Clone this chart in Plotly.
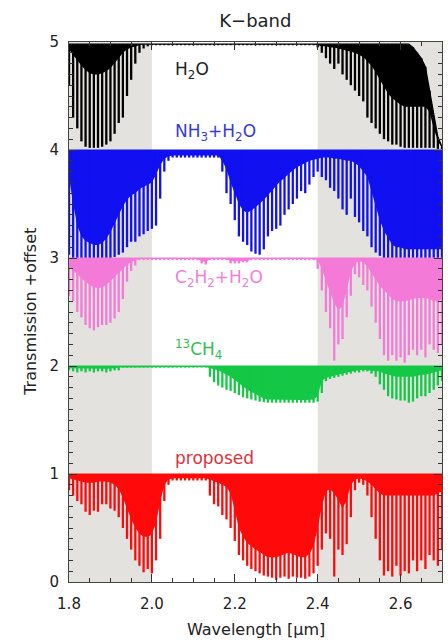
import numpy as np
import plotly.graph_objects as go

# wavelength grid (micron), sampled every 0.01
wavelength = [round(1.80 + 0.01 * i, 2) for i in range(91)]

shaded_bands = [(1.8, 2.0), (2.4, 2.7)]

# ---------------- H2O (offset 4) ----------------
h2o_top = [4.98] * 83 + [4.95, 4.9, 4.85, 4.77, 4.55, 4.3, 4.12, 4.03]
h2o_core = ([4.93, 4.88, 4.83, 4.78, 4.74, 4.71, 4.7, 4.7, 4.71, 4.73, 4.76, 4.8, 4.85, 4.9, 4.93, 4.95, 4.96, 4.97, 4.98, 4.98]
            + [4.98] * 40
            + [4.97, 4.96, 4.96, 4.95, 4.95, 4.94, 4.93, 4.92, 4.91, 4.9, 4.88, 4.86, 4.82, 4.78, 4.72, 4.65,
               4.58, 4.52, 4.48, 4.45, 4.42, 4.4, 4.4, 4.4, 4.4, 4.4, 4.4, 4.35, 4.2, 4.08, 4.02])
h2o_deep = ([4.6, 4.3, 4.2, 4.08, 4.03, 4.02, 4.02, 4.02, 4.03, 4.05, 4.08, 4.15, 4.25, 4.3, 4.5, 4.65, 4.8, 4.9, 4.94, 4.96]
            + [4.97] * 40
            + [4.95, 4.9, 4.85, 4.8, 4.75, 4.8, 4.7, 4.65, 4.6, 4.55, 4.5, 4.45, 4.3, 4.25, 4.2, 4.15,
               4.1, 4.08, 4.05, 4.05, 4.03, 4.02, 4.02, 4.02, 4.02, 4.02, 4.02, 4.02, 4.02, 4.01, 4.01])

# ---------------- NH3 + H2O (offset 3) ----------------
nh3_top = [4.0] * 91
nh3_core = ([3.75, 3.5, 3.3, 3.2, 3.16, 3.14, 3.12, 3.12, 3.14, 3.18, 3.24, 3.32, 3.4, 3.48, 3.54, 3.58, 3.6, 3.64, 3.66, 3.68, 3.7]
            + [3.77, 3.86, 3.92, 3.94]
            + [3.95] * 12
            + [3.9, 3.82, 3.7, 3.6, 3.5, 3.44, 3.42, 3.44, 3.47, 3.5, 3.54, 3.58, 3.62, 3.67, 3.71, 3.74, 3.78, 3.81,
               3.84, 3.86, 3.88, 3.9, 3.91, 3.92, 3.93, 3.93, 3.93, 3.92, 3.92, 3.91, 3.9, 3.9, 3.88, 3.85, 3.8, 3.75,
               3.62, 3.48, 3.35, 3.25, 3.18]
            + [3.12, 3.1, 3.1, 3.08, 3.08, 3.08, 3.08, 3.08, 3.08, 3.08, 3.08, 3.08, 3.08])
nh3_deep = ([3.03, 3.0, 3.0, 3.0, 3.0, 3.0, 3.0, 3.0, 3.0, 3.0, 3.0, 3.01, 3.03, 3.05, 3.1, 3.15, 3.15, 3.2, 3.22, 3.25, 3.27]
            + [3.3, 3.55, 3.8, 3.9]
            + [3.93] * 12
            + [3.8, 3.6, 3.5, 3.35, 3.2, 3.15, 3.12, 3.06, 3.04, 3.03, 3.08, 3.2, 3.25, 3.27, 3.3, 3.4, 3.45, 3.5,
               3.55, 3.62, 3.6, 3.68, 3.75, 3.8, 3.75, 3.72, 3.65, 3.62, 3.55, 3.45, 3.4, 3.55, 3.38, 3.33, 3.25, 3.2,
               3.1, 3.05, 3.02, 3.0, 3.0]
            + [3.0] * 13)

# ---------------- C2H2 + H2O (offset 2) ----------------
c2h2_top = [3.0] * 91
c2h2_core = ([2.92, 2.89, 2.85, 2.81, 2.78, 2.75, 2.73, 2.72, 2.73, 2.75, 2.78, 2.82, 2.86, 2.9, 2.94, 2.96, 2.98]
             + [2.99] * 15 + [2.97, 2.96] + [2.99] * 5 + [2.97, 2.97, 2.97, 2.97, 2.97] + [2.99] * 16
             + [2.98, 2.9, 2.8, 2.68, 2.58, 2.52, 2.55, 2.7, 2.87, 2.95, 2.97, 2.96, 2.92, 2.86, 2.8, 2.74,
                2.7, 2.66, 2.62, 2.6, 2.6, 2.6, 2.61, 2.62, 2.63, 2.63, 2.63, 2.62, 2.6, 2.6, 2.62])
c2h2_deep = ([2.65, 2.6, 2.5, 2.45, 2.38, 2.35, 2.33, 2.36, 2.38, 2.38, 2.4, 2.44, 2.5, 2.62, 2.78, 2.88, 2.93]
             + [2.98] * 15 + [2.95, 2.94] + [2.98] * 5 + [2.95, 2.95, 2.95, 2.96, 2.96] + [2.98] * 16
             + [2.9, 2.7, 2.5, 2.35, 2.05, 2.2, 2.25, 2.45, 2.65, 2.85, 2.82, 2.75, 2.7, 2.55, 2.4, 2.25,
                2.1, 2.05, 2.1, 2.05, 2.08, 2.03, 2.1, 2.15, 2.1, 2.15, 2.08, 2.2, 2.15, 2.12, 2.2])

# ---------------- 13CH4 (offset 1) ----------------
ch4_top = [2.0] * 91
ch4_core = ([1.98, 1.975, 1.975, 1.975, 1.975, 1.975, 1.975, 1.975, 1.975, 1.975, 1.975, 1.98, 1.985]
            + [1.99] * 21
            + [1.98, 1.97, 1.96, 1.94, 1.92, 1.9, 1.87, 1.84, 1.81, 1.78, 1.76, 1.74, 1.72, 1.7, 1.69]
            + [1.685] * 10 + [1.69, 1.72]
            + [1.86, 1.89, 1.9, 1.91, 1.92, 1.93, 1.94, 1.95, 1.955, 1.96, 1.965, 1.965, 1.96, 1.955, 1.95,
               1.93, 1.92, 1.91, 1.9, 1.9, 1.9, 1.9, 1.9, 1.91, 1.92, 1.92, 1.93, 1.94, 1.95, 1.96])
ch4_deep = ([1.96, 1.95, 1.94, 1.95, 1.94, 1.95, 1.94, 1.95, 1.95, 1.94, 1.95, 1.96, 1.96]
            + [1.985] * 21
            + [1.9, 1.85, 1.82, 1.8, 1.78, 1.77, 1.75, 1.73, 1.71, 1.7, 1.69, 1.68, 1.67, 1.665, 1.66]
            + [1.66] * 10 + [1.66, 1.67]
            + [1.75, 1.86, 1.88, 1.89, 1.9, 1.91, 1.92, 1.93, 1.94, 1.94, 1.95, 1.95, 1.93, 1.9, 1.83,
               1.78, 1.72, 1.7, 1.69, 1.68, 1.68, 1.66, 1.67, 1.7, 1.72, 1.72, 1.75, 1.78, 1.82, 1.86])

# ---------------- proposed (offset 0) ----------------
prop_top = [1.0] * 91
prop_core = ([0.96, 0.95, 0.94, 0.93, 0.92, 0.92, 0.92, 0.93, 0.93, 0.93, 0.92, 0.9, 0.86, 0.78, 0.68, 0.58, 0.5,
              0.45, 0.42, 0.42, 0.44, 0.55, 0.74, 0.9, 0.95]
             + [0.96] * 9
             + [0.95, 0.93, 0.92, 0.9, 0.88, 0.82, 0.66, 0.5, 0.42, 0.36, 0.33, 0.3, 0.28, 0.25, 0.23, 0.23, 0.23,
                0.24, 0.26, 0.27, 0.26, 0.24, 0.23, 0.23, 0.26, 0.33, 0.5, 0.7, 0.84, 0.86, 0.82, 0.76, 0.68, 0.76,
                0.9, 0.95, 0.96, 0.95, 0.93, 0.9, 0.86, 0.82, 0.8, 0.8, 0.8, 0.8, 0.8, 0.8, 0.8, 0.8, 0.8,
                0.8, 0.8, 0.8, 0.8, 0.82, 0.84])
prop_deep = ([0.85, 0.8, 0.75, 0.72, 0.65, 0.62, 0.66, 0.65, 0.72, 0.72, 0.68, 0.66, 0.6, 0.5, 0.4, 0.3, 0.2,
              0.15, 0.09, 0.12, 0.08, 0.2, 0.4, 0.75, 0.9]
             + [0.94] * 9
             + [0.8, 0.72, 0.7, 0.62, 0.58, 0.5, 0.38, 0.25, 0.2, 0.15, 0.12, 0.1, 0.08, 0.06, 0.05, 0.04, 0.02,
                0.04, 0.05, 0.03, 0.05, 0.04, 0.04, 0.03, 0.05, 0.08, 0.15, 0.3, 0.45, 0.4, 0.05, 0.3, 0.25, 0.35,
                0.6, 0.85, 0.92, 0.9, 0.8, 0.6, 0.4, 0.2, 0.06, 0.1, 0.05, 0.15, 0.06, 0.1, 0.08, 0.2, 0.1, 0.2,
                0.12, 0.25, 0.2, 0.15, 0.3])

series = [
    ("H2O", h2o_top, h2o_core, h2o_deep, "#000000"),
    ("NH3+H2O", nh3_top, nh3_core, nh3_deep, "#1010f0"),
    ("C2H2+H2O", c2h2_top, c2h2_core, c2h2_deep, "#f47ad8"),
    ("13CH4", ch4_top, ch4_core, ch4_deep, "#14c846"),
    ("proposed", prop_top, prop_core, prop_deep, "#ff0a0a"),
]

for name, t, c, d, _ in series:
    assert len(t) == len(c) == len(d) == len(wavelength), (name, len(t), len(c), len(d))

fig = go.Figure()

for name, top, core, deep, color in series:
    # dense (saturated) part of the line forest
    fig.add_trace(go.Scatter(
        x=wavelength + wavelength[::-1], y=top + core[::-1],
        fill="toself", fillcolor=color, line=dict(width=0, color=color),
        mode="lines", hoverinfo="skip", showlegend=False))
    # individual deep lines
    sx, sy = [], []
    for w, t, d in zip(wavelength, top, deep):
        sx += [w, w, None]
        sy += [t, d, None]
    fig.add_trace(go.Scatter(x=sx, y=sy, mode="lines",
                             line=dict(width=2.3, color=color),
                             hoverinfo="skip", showlegend=False))
    # continuum line
    fig.add_trace(go.Scatter(x=wavelength, y=top, mode="lines",
                             line=dict(width=1.2, color=color),
                             hoverinfo="skip", showlegend=False))

shapes = [dict(type="rect", xref="x", yref="paper", x0=a, x1=b, y0=0, y1=1,
               fillcolor="#e4e2df", line=dict(width=0), layer="below")
          for a, b in shaded_bands]

lab_font = "DejaVu Sans"
annotations = [
    dict(x=2.05, y=4.74, text="H<sub>2</sub>O", font=dict(color="#222222", size=17)),
    dict(x=2.05, y=4.16, text="NH<sub>3</sub>+H<sub>2</sub>O", font=dict(color="#3838d8", size=17)),
    dict(x=2.05, y=2.81, text="C<sub>2</sub>H<sub>2</sub>+H<sub>2</sub>O", font=dict(color="#f080d8", size=17)),
    dict(x=2.05, y=2.15, text="<sup>13</sup>CH<sub>4</sub>", font=dict(color="#30c050", size=17)),
    dict(x=2.05, y=1.15, text="proposed", font=dict(color="#e0303a", size=17)),
]
for a in annotations:
    a.update(xref="x", yref="y", xanchor="left", yanchor="middle", showarrow=False)
    a["font"]["family"] = lab_font

annotations += [
    dict(text="Transmission +offset", xref="paper", yref="paper", x=-0.105, y=0.5,
         textangle=-90, showarrow=False, xanchor="center", yanchor="middle",
         font=dict(family=lab_font, size=16, color="#222222")),
    dict(text="Wavelength [\u03bcm]", xref="paper", yref="paper", x=0.5, y=-0.088,
         showarrow=False, xanchor="center", yanchor="middle",
         font=dict(family=lab_font, size=16, color="#222222")),
]

fig.update_layout(
    width=448, height=642,
    margin=dict(l=69, r=6, t=42, b=60, autoexpand=False),
    paper_bgcolor="white", plot_bgcolor="white",
    title=dict(text="K\u2212band", x=0.57, xanchor="center", y=0.967, yanchor="middle",
               font=dict(family=lab_font, size=18, color="#222222")),
    shapes=shapes, annotations=annotations, showlegend=False,
)
fig.update_xaxes(range=[1.8, 2.7], tickvals=[1.8, 2.0, 2.2, 2.4, 2.6],
                 ticktext=["1.8", "2.0", "2.2", "2.4", "2.6"], automargin=False,
                 ticks="inside", ticklen=8, tickcolor="#333333", showgrid=False, zeroline=False,
                 showline=True, linecolor="#444444", linewidth=1, mirror="ticks",
                 minor=dict(dtick=0.05, tick0=1.8, ticks="inside", ticklen=4, tickcolor="#333333"),
                 tickfont=dict(family=lab_font, size=15, color="#222222"), ticklabelstandoff=8)
fig.update_yaxes(range=[0, 5], dtick=1, tick0=0, automargin=False,
                 ticks="inside", ticklen=8, tickcolor="#333333", showgrid=False, zeroline=False,
                 showline=True, linecolor="#444444", linewidth=1, mirror="ticks",
                 minor=dict(dtick=0.1, ticks="inside", ticklen=4, tickcolor="#333333"),
                 tickfont=dict(family=lab_font, size=15, color="#222222"), ticklabelstandoff=6)

fig.write_html("out.html", config={"displayModeBar": False},
               post_script="document.body.style.margin='0';document.body.style.padding='0';")
